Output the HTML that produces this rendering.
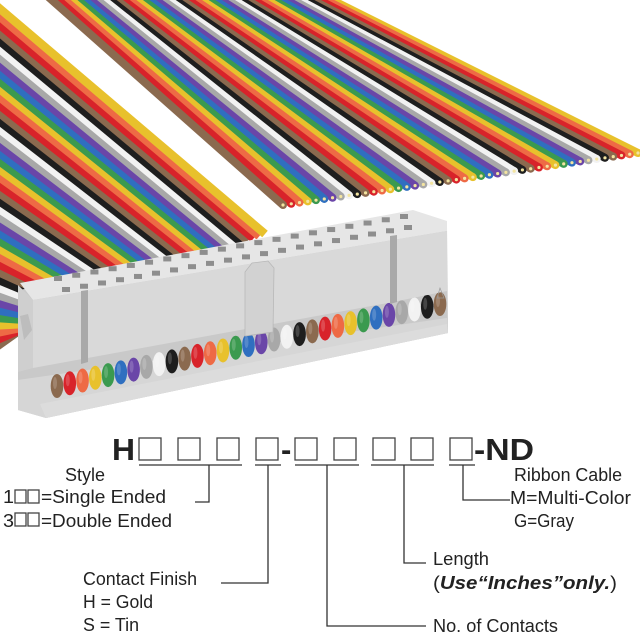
<!DOCTYPE html>
<html><head><meta charset="utf-8"><style>
html,body{margin:0;padding:0;background:#fff;width:640px;height:640px;overflow:hidden}
svg{display:block}
text{font-family:"Liberation Sans Narrow","Liberation Sans",sans-serif;fill:#222}
</style></head><body>
<svg id="s" width="640" height="640" viewBox="0 0 640 640" xmlns="http://www.w3.org/2000/svg">
<g id="back"></g>
<g id="front"></g>
<g id="conn">
  <polygon points="18,290 447,226 448,333 46,418 18,410" fill="#c9c9c9"/>
  <polygon points="18,380 447,318 448,333 46,418 18,410" fill="#d6d6d6"/>
  <g id="circles"></g>
  <polygon points="40,404 447,324 448,333 46,418" fill="#dcdcdc"/>
  <polygon points="20,283 413,210 447,221 447,231 33,300" fill="#e6e6e6"/>
  <g id="holes"></g>
  <polygon points="33,300 447,231 447,291 393,302 33,368" fill="#d9d9d9"/>
  <polygon points="18,285 33,300 33,368 18,372" fill="#cfcfcf"/>
  <polygon points="20,316 28,314 32,330 24,340" fill="#bdbdbd"/>
  <polygon points="81,291 88,290 88,362 81,364" fill="#a9a9a9"/>
  <polygon points="390,236 397,235 397,302 390,304" fill="#a9a9a9"/>
  <polygon points="245,272 252,263 268,261 274,268 273,332 245,336" fill="#d2d2d2" stroke="#b8b8b8" stroke-width="0.8"/>
  <polygon points="437,298 440,288 444,298" fill="none" stroke="#999" stroke-width="0.7"/>
</g>
<g id="diag" stroke="#333" stroke-width="1.3" fill="none">
  <line x1="139" y1="465" x2="242" y2="465"/>
  <line x1="255" y1="465" x2="281" y2="465"/>
  <line x1="295" y1="465" x2="359" y2="465"/>
  <line x1="371" y1="465" x2="434" y2="465"/>
  <line x1="449" y1="465" x2="475" y2="465"/>
  <polyline points="209,465 209,502 195,502"/>
  <polyline points="268,465 268,583 221,583"/>
  <polyline points="327,465 327,626 426,626"/>
  <polyline points="404,465 404,563 426,563"/>
  <polyline points="463,465 463,500 510,500"/>
</g>
<g fill="none" stroke="#444" stroke-width="1.3">
  <rect x="139" y="438" width="22" height="22"/>
  <rect x="178" y="438" width="22" height="22"/>
  <rect x="217" y="438" width="22" height="22"/>
  <rect x="256" y="438" width="22" height="22"/>
  <rect x="295" y="438" width="22" height="22"/>
  <rect x="334" y="438" width="22" height="22"/>
  <rect x="373" y="438" width="22" height="22"/>
  <rect x="411" y="438" width="22" height="22"/>
  <rect x="450" y="438" width="22" height="22"/>
  <rect x="15" y="490" width="11" height="13"/><rect x="28" y="490" width="11" height="13"/>
  <rect x="15" y="513" width="11" height="13"/><rect x="28" y="513" width="11" height="13"/>
</g>
<g font-size="31">
  <text x="112" y="460" textLength="23" lengthAdjust="spacingAndGlyphs" style="font-family:'Liberation Sans',sans-serif;font-weight:bold">H</text>
  <text x="281" y="460" style="font-family:'Liberation Sans',sans-serif;font-weight:bold">-</text>
  <text x="474" y="460" textLength="60" lengthAdjust="spacingAndGlyphs" style="font-family:'Liberation Sans',sans-serif;font-weight:bold">-ND</text>
</g>
<g font-size="18">
  <text x="65" y="481" textLength="40" lengthAdjust="spacingAndGlyphs">Style</text>
  <text x="3" y="503" textLength="11" lengthAdjust="spacingAndGlyphs">1</text>
  <text x="41" y="503" textLength="125" lengthAdjust="spacingAndGlyphs">=Single Ended</text>
  <text x="3" y="527" textLength="11" lengthAdjust="spacingAndGlyphs">3</text>
  <text x="41" y="527" textLength="131" lengthAdjust="spacingAndGlyphs">=Double Ended</text>
  <text x="83" y="585" textLength="114" lengthAdjust="spacingAndGlyphs">Contact Finish</text>
  <text x="83" y="608" textLength="70" lengthAdjust="spacingAndGlyphs">H = Gold</text>
  <text x="83" y="631" textLength="56" lengthAdjust="spacingAndGlyphs">S = Tin</text>
  <text x="433" y="565" textLength="56" lengthAdjust="spacingAndGlyphs">Length</text>
  <text x="433" y="589" textLength="184" lengthAdjust="spacingAndGlyphs">(<tspan font-weight="bold" font-style="italic">Use“Inches”only.</tspan>)</text>
  <text x="433" y="632" textLength="125" lengthAdjust="spacingAndGlyphs">No. of Contacts</text>
  <text x="514" y="481" textLength="108" lengthAdjust="spacingAndGlyphs">Ribbon Cable</text>
  <text x="510" y="504" textLength="121" lengthAdjust="spacingAndGlyphs">M=Multi-Color</text>
  <text x="514" y="527" textLength="60" lengthAdjust="spacingAndGlyphs">G=Gray</text>
</g>
</svg>
<script>
var NS="http://www.w3.org/2000/svg";
var C=["#8b6a4f","#d8232a","#ee6a45","#e8c12c","#3b9a4f","#2f6fc0","#6a46a8","#a8a8a8","#f2f2f2","#1e1e1e"];
function el(p,n,a){var e=document.createElementNS(NS,n);for(var k in a)e.setAttribute(k,a[k]);p.appendChild(e);return e;}
var N=44,back=document.getElementById("back");
for(var i=N-1;i>=0;i--){var t=i/(N-1);
 var x1=45+275*t,y1=-6,x2=283+355*t,y2=205-52*t,c=C[i%10];
 el(back,"line",{x1:x1,y1:y1,x2:x2,y2:y2,stroke:c,"stroke-width":8});
 el(back,"circle",{cx:x2,cy:y2,r:4,fill:c});
 el(back,"circle",{cx:x2,cy:y2,r:1.6,fill:"#f3e4a0"});
}
var R=["#e8c12c","#ee6a45","#d8232a","#8b6a4f","#1e1e1e","#f2f2f2","#a8a8a8","#6a46a8","#2f6fc0","#3b9a4f"];
var fr=document.getElementById("front");
for(var i=N-1;i>=0;i--){var t=i/(N-1);
 el(fr,"line",{x1:-8,y1:2+348*t,x2:265-245*t,y2:234+96*t,stroke:R[i%10],"stroke-width":8.5});
}
var ci=document.getElementById("circles");
for(var k=0;k<31;k++){var x=57+k*(383/30),y=386-k*(82/30);
 el(ci,"ellipse",{cx:x,cy:y,rx:6.3,ry:12,fill:C[k%10]});
 el(ci,"ellipse",{cx:x-2,cy:y-3,rx:2,ry:6,fill:"rgba(255,255,255,0.18)"});
}
var h=document.getElementById("holes");
for(var k=0;k<20;k++){var t=k/19;
 el(h,"rect",{x:54+346*t,y:276-62*t,width:8,height:5,fill:"#8e8e8e"});
 el(h,"rect",{x:62+342*t,y:287-62*t,width:8,height:5,fill:"#8e8e8e"});
}
</script>
</body></html>
